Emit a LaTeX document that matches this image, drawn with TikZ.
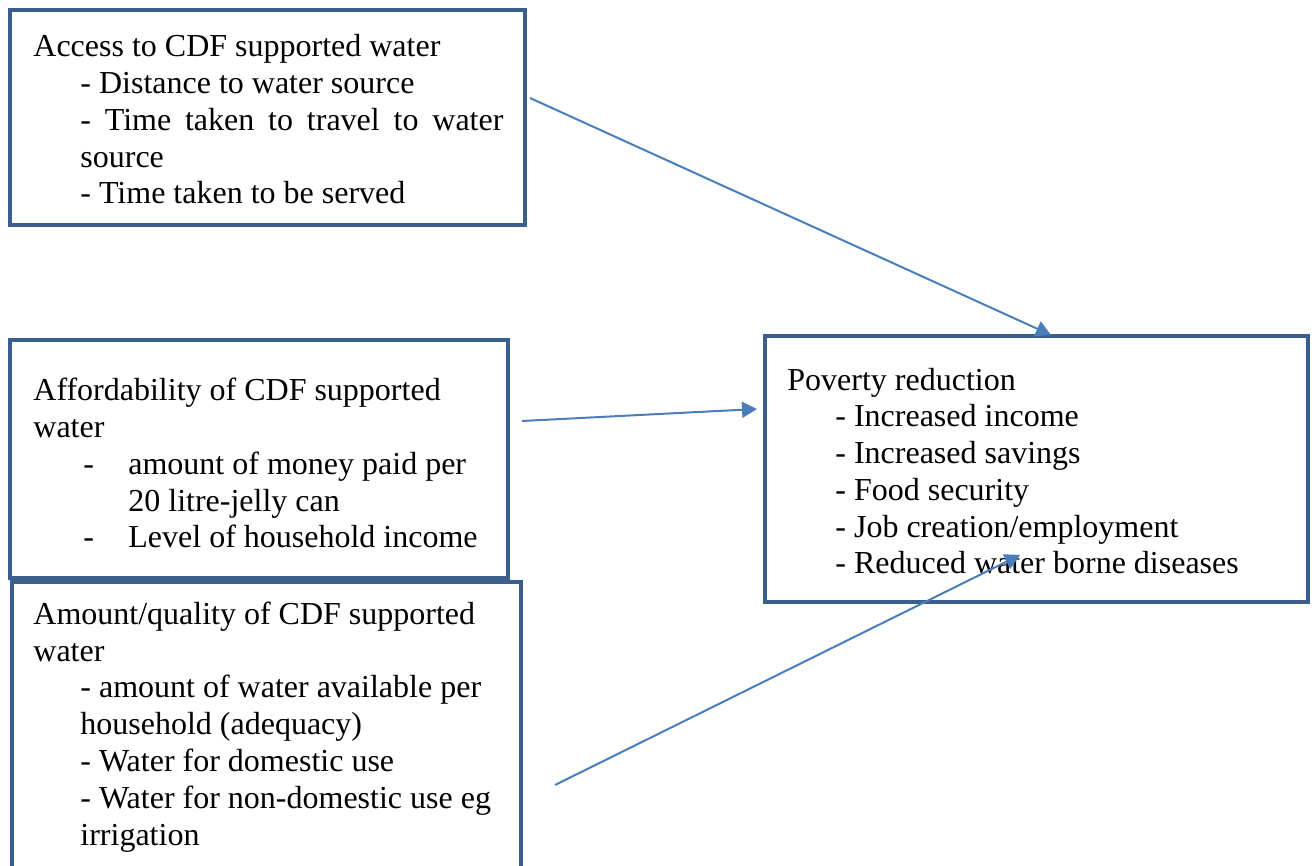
\documentclass[tikz,border=0pt]{standalone}
\usepackage{fontspec}
\setmainfont{Liberation Serif}
\usetikzlibrary{arrows.meta}

\definecolor{boxblue}{HTML}{3B5E8C}
\definecolor{arrowblue}{HTML}{4A7EBB}

\tikzset{
  framebox/.style={draw=boxblue, line width=2.2pt, rectangle, inner sep=0pt, outer sep=0pt},
  boxtext/.style={anchor=base west, align=left, inner sep=0pt,
    font=\fontsize{16pt}{18.4pt}\selectfont},
  link/.style={draw=arrowblue, line width=1pt, -{Triangle[length=7.5pt, width=8pt]}}
}

\begin{document}
\begin{tikzpicture}[x=0.5pt, y=-0.5pt]
   \useasboundingbox (0,0) rectangle (1314,866);
   % boxes
   \node[framebox, minimum width=257.5pt, minimum height=107.5pt] (access) at (267.5,117.5) {};
   \node[framebox, minimum width=249pt, minimum height=119pt] (afford) at (259,459) {};
   \node[framebox, minimum width=254.5pt, minimum height=145pt] (amount) at (266.5,727) {};
   \node[framebox, minimum width=271.5pt, minimum height=133pt] (poverty) at (1036.5,469) {};
   % texts (placed by the baseline of their last line)
   \node[boxtext] (accesstxt) at (33,204) {Access to CDF supported water\\
     \hspace*{23.5pt}- Distance to water source\\
     \hspace*{23.5pt}\makebox[211.5pt][s]{- Time taken to travel to water}\\
     \hspace*{23.5pt}source\\
     \hspace*{23.5pt}- Time taken to be served};
   \node[boxtext] (affordtxt) at (33,548) {Affordability of CDF supported\\
     water\\
     \hspace*{25pt}\makebox[22.5pt][l]{-}amount of money paid per\\
     \hspace*{47.5pt}20 litre-jelly can\\
     \hspace*{25pt}\makebox[22.5pt][l]{-}Level of household income};
   \node[boxtext] (amounttxt) at (33,845) {Amount/quality of CDF supported\\
     water\\
     \hspace*{23.5pt}- amount of water available per\\
     \hspace*{23.5pt}household (adequacy)\\
     \hspace*{23.5pt}- Water for domestic use\\
     \hspace*{23.5pt}- Water for non-domestic use eg\\
     \hspace*{23.5pt}irrigation};
   \node[boxtext] (povertytxt) at (787,574) {Poverty reduction\\
     \hspace*{24pt}- Increased income\\
     \hspace*{24pt}- Increased savings\\
     \hspace*{24pt}- Food security\\
     \hspace*{24pt}- Job creation/employment\\
     \hspace*{24pt}- Reduced water borne diseases};
   % arrows
   \coordinate (accessout) at (530,98);
   \coordinate (povertytop) at (1051,335);
   \coordinate (affordout) at (522,421);
   \coordinate (povertyleft) at (757,409);
   \coordinate (amountout) at (555,785);
   \coordinate (povertyin) at (1020,555);
   \draw[link] (accessout) -- (povertytop);
   \draw[link] (affordout) -- (povertyleft);
   \draw[link] (amountout) -- (povertyin);
\end{tikzpicture}
\end{document}
